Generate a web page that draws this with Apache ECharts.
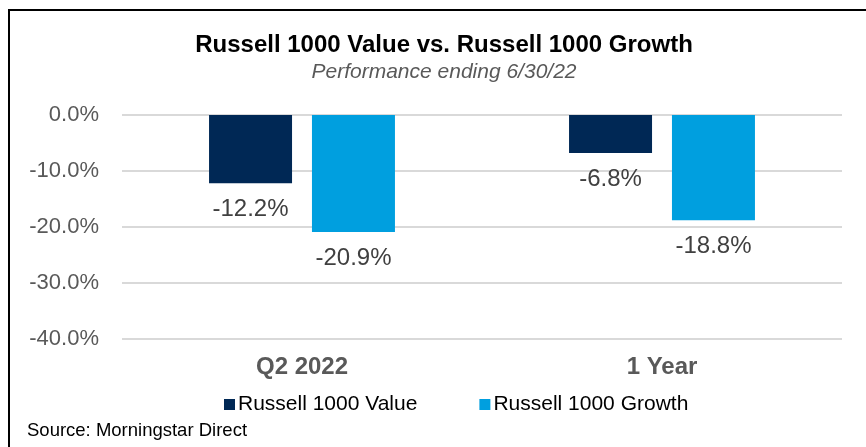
<!DOCTYPE html>
<html>
<head>
<meta charset="utf-8">
<script src="https://cdn.jsdelivr.net/npm/echarts@6/dist/echarts.min.js"></script>
<style>
	html, body { margin: 0; padding: 0; background: #fff; }
	#frame { position: absolute; left: 8px; top: 9px; width: 858px; height: 438px; border-top: 2px solid #000; border-left: 2px solid #000; box-sizing: border-box; }
	#chart { width: 866px; height: 447px; }
</style>
</head>
<body>
<div id="frame"></div>
<div id="chart"></div>
<script>
	var categories = ['Q2 2022', '1 Year'];
	var valueReturns = [-12.2, -6.8];
	var growthReturns = [-20.9, -18.8];
	var yTicks = [0, -10, -20, -30, -40];

	var font = '"Liberation Sans", Arial, sans-serif';

	function pct(v) {
		return v.toFixed(1) + '%';
	}

	var chart = echarts.init(document.getElementById('chart'));
	chart.setOption({
		animation: false,
		textStyle: {fontFamily: font},
		title: {
			text: 'Russell 1000 Value vs. Russell 1000 Growth',
			subtext: 'Performance ending 6/30/22',
			left: 439,
			textAlign: 'center',
			top: 28,
			itemGap: 5,
			textStyle: {fontFamily: font, fontSize: 24, fontWeight: 'bold', color: '#000'},
			subtextStyle: {fontFamily: font, fontSize: 21, fontStyle: 'italic', color: '#595959'}
		},
		legend: {
			data: ['Russell 1000 Value', 'Russell 1000 Growth'],
			top: 389,
			left: 219,
			icon: 'rect',
			itemWidth: 11,
			itemHeight: 11,
			itemGap: 62,
			textStyle: {fontFamily: font, fontSize: 21, color: '#000', padding: [0, 0, 0, -2]}
		},
		grid: {
			left: 122,
			right: 24,
			top: 115,
			bottom: 108
		},
		xAxis: {
			type: 'category',
			data: categories,
			position: 'bottom',
			axisLine: {show: false},
			axisTick: {show: false},
			axisLabel: {
				fontFamily: font,
				fontSize: 24,
				fontWeight: 'bold',
				color: '#595959',
				margin: 16
			}
		},
		yAxis: {
			type: 'value',
			min: -40,
			max: 0,
			interval: 10,
			axisLine: {show: false},
			axisTick: {show: false},
			splitLine: {lineStyle: {color: '#d9d9d9', width: 2}},
			axisLabel: {
				fontFamily: font,
				fontSize: 22,
				color: '#595959',
				margin: 23,
				formatter: function (v) { return pct(v); }
			}
		},
		series: [
			{
				name: 'Russell 1000 Value',
				type: 'bar',
				barWidth: 83,
				barGap: '24%',
				itemStyle: {color: '#002855'},
				label: {
					show: true,
					position: 'bottom',
					distance: 14,
					fontFamily: font,
					fontSize: 24,
					color: '#404040',
					formatter: function (p) { return pct(p.value); }
				},
				data: valueReturns
			},
			{
				name: 'Russell 1000 Growth',
				type: 'bar',
				barWidth: 83,
				itemStyle: {color: '#009fdf'},
				label: {
					show: true,
					position: 'bottom',
					distance: 14,
					fontFamily: font,
					fontSize: 24,
					color: '#404040',
					formatter: function (p) { return pct(p.value); }
				},
				data: growthReturns
			}
		],
		graphic: [{
			type: 'text',
			left: 27,
			top: 421,
			style: {text: 'Source: Morningstar Direct', font: '18.5px ' + font, fill: '#000'}
		}]
	});
</script>
</body>
</html>
